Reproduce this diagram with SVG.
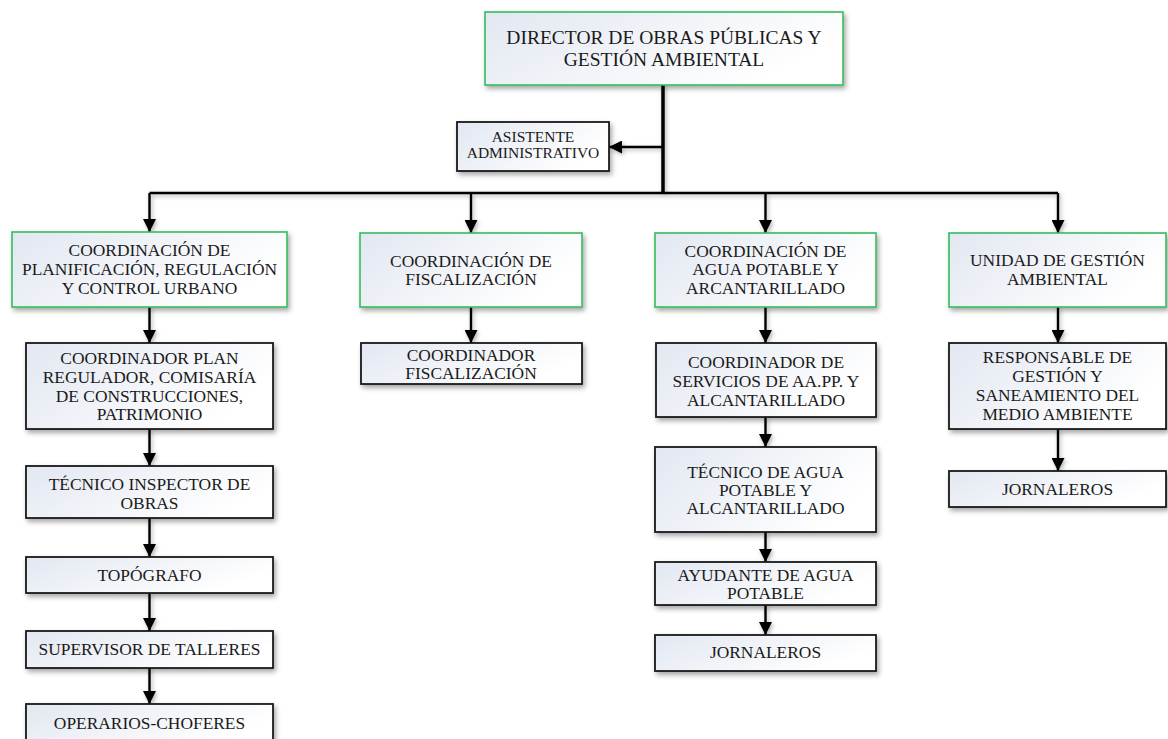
<svg xmlns="http://www.w3.org/2000/svg" width="1168" height="739" viewBox="0 0 1168 739">
  <defs>
    <linearGradient id="boxFill" x1="0" y1="0" x2="1" y2="0.4">
      <stop offset="0" stop-color="#e2e7f1"/>
      <stop offset="1" stop-color="#ffffff"/>
    </linearGradient>
    <filter id="shadow" x="-10%" y="-20%" width="125%" height="150%">
      <feDropShadow dx="2" dy="3" stdDeviation="2.5" flood-color="#000" flood-opacity="0.35"/>
    </filter>
    <!-- user-space region so straight (zero-width) lines keep their shadow -->
    <filter id="lineShadow" filterUnits="userSpaceOnUse" x="0" y="0" width="1168" height="739">
      <feDropShadow dx="1.5" dy="2" stdDeviation="2" flood-color="#000" flood-opacity="0.3"/>
    </filter>
    <marker id="arrow" markerUnits="userSpaceOnUse" markerWidth="14" markerHeight="13" refX="13" refY="6.5" orient="auto">
      <path d="M0,0 L13,6.5 L0,13 Z" fill="#000"/>
    </marker>
    <style>
      .box { fill: url(#boxFill); filter: url(#shadow); }
      .green { stroke: #33bd5c; stroke-width: 1.6; }
      .black { stroke: #1a1a1a; stroke-width: 1.8; }
      text { font-family: "Liberation Serif", "Times New Roman", serif; fill: #1a1a1a; text-anchor: middle; }
      .t19 { font-size: 19.5px; }
      .t17 { font-size: 17.4px; }
      .t15 { font-size: 15.5px; }
      .conn { fill: none; stroke: #000; stroke-width: 2.4; }
      .trunk { fill: none; stroke: #000; stroke-width: 3.5; }
    </style>
  </defs>

  <g id="connectors" filter="url(#lineShadow)">
    <!-- main trunk and branch bus -->
    <path class="trunk" d="M663,85 V194"/>
    <path class="conn" d="M663,147 H609" marker-end="url(#arrow)"/>
    <path class="conn" d="M149.5,193 H1058"/>
    <path class="conn" d="M149.5,193 V232" marker-end="url(#arrow)"/>
    <path class="conn" d="M471,193 V233" marker-end="url(#arrow)"/>
    <path class="conn" d="M765.5,193 V233" marker-end="url(#arrow)"/>
    <path class="conn" d="M1058,193 V233" marker-end="url(#arrow)"/>
    <!-- column 1 -->
    <path class="conn" d="M149.5,307 V343" marker-end="url(#arrow)"/>
    <path class="conn" d="M149.5,429 V466" marker-end="url(#arrow)"/>
    <path class="conn" d="M149.5,518 V557" marker-end="url(#arrow)"/>
    <path class="conn" d="M149.5,593 V631" marker-end="url(#arrow)"/>
    <path class="conn" d="M149.5,668 V704" marker-end="url(#arrow)"/>
    <!-- column 2 -->
    <path class="conn" d="M471,307 V343" marker-end="url(#arrow)"/>
    <!-- column 3 -->
    <path class="conn" d="M765.5,307 V343" marker-end="url(#arrow)"/>
    <path class="conn" d="M765.5,417 V447" marker-end="url(#arrow)"/>
    <path class="conn" d="M765.5,532 V562" marker-end="url(#arrow)"/>
    <path class="conn" d="M765.5,605 V635" marker-end="url(#arrow)"/>
    <!-- column 4 -->
    <path class="conn" d="M1058,307 V343" marker-end="url(#arrow)"/>
    <path class="conn" d="M1058,429 V471" marker-end="url(#arrow)"/>
  </g>

  <g id="director">
    <rect class="box green" x="485" y="12" width="358" height="73"/>
    <text class="t19" x="664" y="44">DIRECTOR DE OBRAS PÚBLICAS Y</text>
    <text class="t19" x="664" y="65.5">GESTIÓN AMBIENTAL</text>
  </g>

  <g id="asistente">
    <rect class="box black" x="457" y="122" width="152" height="49"/>
    <text class="t15" x="533" y="142">ASISTENTE</text>
    <text class="t15" x="533" y="158">ADMINISTRATIVO</text>
  </g>

  <g id="coord-planificacion">
    <rect class="box green" x="12" y="232" width="275" height="75"/>
    <text class="t17" x="149.5" y="255.5">COORDINACIÓN DE</text>
    <text class="t17" x="149.5" y="274.5">PLANIFICACIÓN, REGULACIÓN</text>
    <text class="t17" x="149.5" y="293.5">Y CONTROL URBANO</text>
  </g>

  <g id="coord-fiscalizacion">
    <rect class="box green" x="360" y="233" width="222" height="74"/>
    <text class="t17" x="471" y="266.5">COORDINACIÓN DE</text>
    <text class="t17" x="471" y="285">FISCALIZACIÓN</text>
  </g>

  <g id="coord-agua">
    <rect class="box green" x="655" y="233" width="221" height="74"/>
    <text class="t17" x="765.5" y="256.5">COORDINACIÓN DE</text>
    <text class="t17" x="765.5" y="275">AGUA POTABLE Y</text>
    <text class="t17" x="765.5" y="293.5">ARCANTARILLADO</text>
  </g>

  <g id="unidad-ambiental">
    <rect class="box green" x="949" y="233" width="217" height="74"/>
    <text class="t17" x="1057.5" y="265.5">UNIDAD DE GESTIÓN</text>
    <text class="t17" x="1057.5" y="284.5">AMBIENTAL</text>
  </g>

  <g id="coordinador-plan">
    <rect class="box black" x="26" y="343" width="247" height="86"/>
    <text class="t17" x="149.5" y="363.5">COORDINADOR PLAN</text>
    <text class="t17" x="149.5" y="382.5">REGULADOR, COMISARÍA</text>
    <text class="t17" x="149.5" y="401.5">DE CONSTRUCCIONES,</text>
    <text class="t17" x="149.5" y="420">PATRIMONIO</text>
  </g>

  <g id="coordinador-fiscalizacion">
    <rect class="box black" x="361" y="343" width="221" height="41"/>
    <text class="t17" x="471" y="360.5">COORDINADOR</text>
    <text class="t17" x="471" y="378.5">FISCALIZACIÓN</text>
  </g>

  <g id="coordinador-servicios">
    <rect class="box black" x="656" y="343" width="220" height="74"/>
    <text class="t17" x="766" y="367.5">COORDINADOR DE</text>
    <text class="t17" x="766" y="386.5">SERVICIOS DE AA.PP. Y</text>
    <text class="t17" x="766" y="405.5">ALCANTARILLADO</text>
  </g>

  <g id="responsable-ambiente">
    <rect class="box black" x="949" y="343" width="217" height="86"/>
    <text class="t17" x="1057.5" y="362.5">RESPONSABLE DE</text>
    <text class="t17" x="1057.5" y="382">GESTIÓN Y</text>
    <text class="t17" x="1057.5" y="401">SANEAMIENTO DEL</text>
    <text class="t17" x="1057.5" y="419.5">MEDIO AMBIENTE</text>
  </g>

  <g id="tecnico-inspector">
    <rect class="box black" x="26" y="466" width="247" height="52"/>
    <text class="t17" x="149.5" y="489.5">TÉCNICO INSPECTOR DE</text>
    <text class="t17" x="149.5" y="508.5">OBRAS</text>
  </g>

  <g id="tecnico-agua">
    <rect class="box black" x="655" y="447" width="221" height="85"/>
    <text class="t17" x="765.5" y="477.5">TÉCNICO DE AGUA</text>
    <text class="t17" x="765.5" y="495.5">POTABLE Y</text>
    <text class="t17" x="765.5" y="513.5">ALCANTARILLADO</text>
  </g>

  <g id="jornaleros-ambiente">
    <rect class="box black" x="949" y="471" width="217" height="36"/>
    <text class="t17" x="1057.5" y="494.5">JORNALEROS</text>
  </g>

  <g id="topografo">
    <rect class="box black" x="26" y="557" width="247" height="36"/>
    <text class="t17" x="149.5" y="580.5">TOPÓGRAFO</text>
  </g>

  <g id="ayudante-agua">
    <rect class="box black" x="655" y="562" width="221" height="43"/>
    <text class="t17" x="765.5" y="580.5">AYUDANTE DE AGUA</text>
    <text class="t17" x="765.5" y="598.5">POTABLE</text>
  </g>

  <g id="supervisor-talleres">
    <rect class="box black" x="26" y="631" width="247" height="37"/>
    <text class="t17" x="149.5" y="654.5">SUPERVISOR DE TALLERES</text>
  </g>

  <g id="jornaleros-agua">
    <rect class="box black" x="655" y="635" width="221" height="36"/>
    <text class="t17" x="765.5" y="657.5">JORNALEROS</text>
  </g>

  <g id="operarios-choferes">
    <rect class="box black" x="26" y="704" width="247" height="42"/>
    <text class="t17" x="149.5" y="728.5">OPERARIOS-CHOFERES</text>
  </g>
</svg>
